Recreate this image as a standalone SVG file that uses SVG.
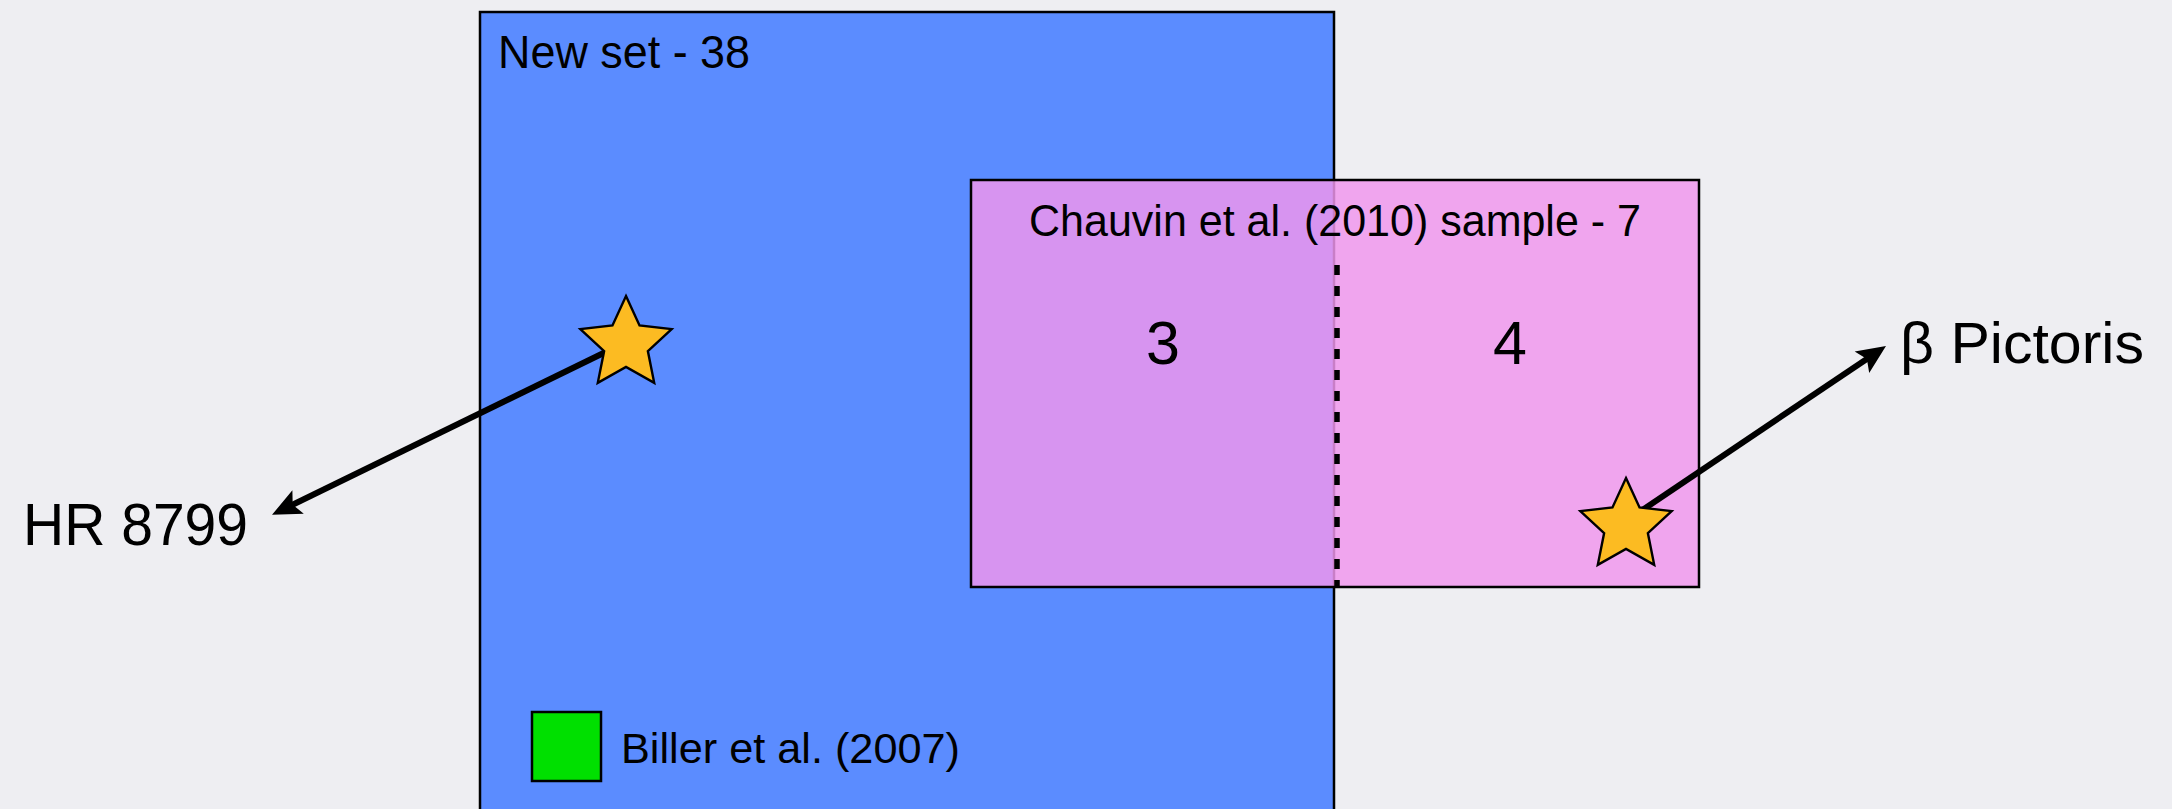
<svg xmlns="http://www.w3.org/2000/svg" width="2172" height="809" viewBox="0 0 2172 809">
  <style>
    .lbl { font-family: "Liberation Sans", Arial, sans-serif; fill: #000; }
    .box { stroke: #000; stroke-width: 2.5; }
    .conn { fill: none; stroke: #000; stroke-width: 6; marker-end: url(#head); }
    .star { fill: #fcbb22; stroke: #000; stroke-width: 2.4; stroke-linejoin: miter; }
  </style>
  <defs>
    <marker id="head" markerUnits="userSpaceOnUse" viewBox="-12 -15 34 30" refX="0" refY="0" markerWidth="34" markerHeight="30" orient="auto">
      <path d="M20,0 L-9,-13 L-3,0 L-9,13 Z" fill="#000"/>
    </marker>
    <path id="starShape" d="M0,-48 L13.52,-18.61 L45.65,-14.83 L21.87,7.11 L28.21,38.83 L0,23 L-28.21,38.83 L-21.87,7.11 L-45.65,-14.83 L-13.52,-18.61 Z"/>
  </defs>

  <!-- backdrop -->
  <rect x="0" y="0" width="2172" height="809" fill="#eeeef2"/>

  <!-- large sample -->
  <g id="new-set">
    <rect class="box" x="480" y="12" width="854" height="810" fill="#5b8cff"/>
    <text class="lbl" x="498" y="68" font-size="47" textLength="252" lengthAdjust="spacingAndGlyphs">New set - 38</text>
  </g>

  <!-- overlapping sample -->
  <g id="chauvin-sample">
    <rect class="box" x="971" y="180" width="728" height="407" fill="#f096ed" fill-opacity="0.84"/>
    <text class="lbl" x="1029" y="236" font-size="44" textLength="612" lengthAdjust="spacingAndGlyphs">Chauvin et al. (2010) sample - 7</text>
    <line x1="1337" y1="265" x2="1337" y2="587" stroke="#000" stroke-width="5.5" stroke-dasharray="10 11"/>
    <text class="lbl" x="1163" y="364" font-size="61" text-anchor="middle">3</text>
    <text class="lbl" x="1510" y="364" font-size="61" text-anchor="middle">4</text>
  </g>

  <!-- legend -->
  <g id="legend-biller">
    <rect class="box" x="532" y="712" width="69" height="69" fill="#00e000"/>
    <text class="lbl" x="621" y="763" font-size="42" textLength="339" lengthAdjust="spacingAndGlyphs">Biller et al. (2007)</text>
  </g>

  <!-- connectors from stars to their names -->
  <g id="connectors">
    <path class="conn" d="M620,345 L290,506"/>
    <path class="conn" d="M1635,515 L1869.4,357.2"/>
  </g>

  <g id="star-hr8799">
    <use href="#starShape" class="star" x="626" y="344"/>
  </g>
  <g id="star-betapic">
    <use href="#starShape" class="star" x="1626" y="526"/>
  </g>

  <g id="label-hr8799">
    <text class="lbl" x="23" y="545" font-size="60" textLength="225" lengthAdjust="spacingAndGlyphs">HR 8799</text>
  </g>
  <g id="label-betapic">
    <text class="lbl" x="1900" y="363" font-size="57" textLength="244" lengthAdjust="spacingAndGlyphs">β Pictoris</text>
  </g>
</svg>
